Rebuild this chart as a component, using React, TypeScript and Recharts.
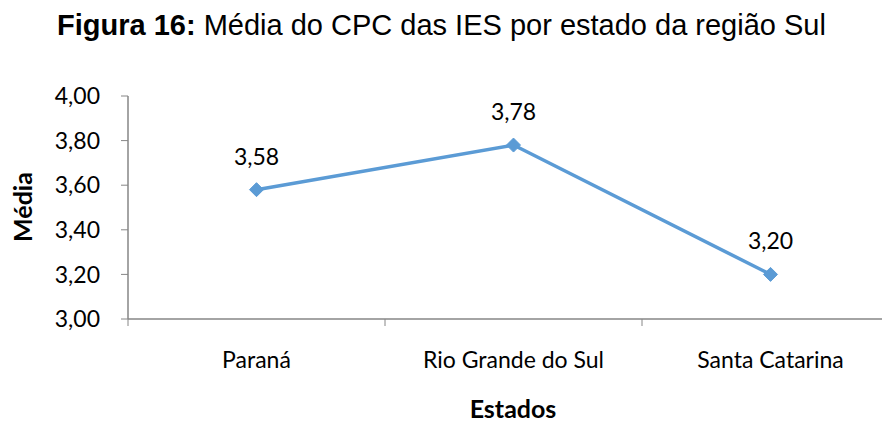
import React from 'react';
import { LineChart, Line, XAxis, YAxis, LabelList } from 'recharts';

const estados = ['Paraná', 'Rio Grande do Sul', 'Santa Catarina'];
const medias = [3.58, 3.78, 3.2];
const yTicks = [3, 3.2, 3.4, 3.6, 3.8, 4];
const xTicks = [0, 0.5, 1, 1.5, 2, 2.5, 3];

const data = estados.map((nome, i) => ({ pos: i + 0.5, nome, media: medias[i] }));

const AXIS = '#868686';
const BLUE = '#5B9BD5';
const FONT = 'Lato, "Open Sans", sans-serif';

const fmt = (v: number) => v.toFixed(2).replace('.', ',');

const XTick = (props: any) => {
  const { x, y, payload } = props;
  const v = payload.value as number;
  if (Number.isInteger(v)) {
    return <line x1={x} x2={x} y1={y} y2={y + 7} stroke={AXIS} strokeWidth={1} />;
  }
  return (
    <text x={x} y={y + 49} textAnchor="middle" fill="#000" fontSize={23} fontFamily={FONT}>
      {estados[Math.floor(v)]}
    </text>
  );
};

const Diamond = (props: any) => {
  const { cx, cy } = props;
  if (cx == null || cy == null) return null;
  const r = 7;
  return (
    <polygon
      points={`${cx},${cy - r} ${cx + r},${cy} ${cx},${cy + r} ${cx - r},${cy}`}
      fill={BLUE}
      stroke={BLUE}
    />
  );
};

const ValueLabel = (props: any) => {
  const { x, y, value } = props;
  return (
    <text x={x} y={y - 25} textAnchor="middle" fill="#000" fontSize={23} fontFamily={FONT}>
      {fmt(value)}
    </text>
  );
};

export default function App() {
  return (
    <div style={{ position: 'relative', width: 882, height: 415, overflow: 'hidden', background: '#fff' }}>
      <LineChart
        width={900}
        height={415}
        data={data}
        margin={{ top: 88, right: 9, bottom: 103, left: 60 }}
      >
        <XAxis
          dataKey="pos"
          type="number"
          domain={[0, 3]}
          ticks={xTicks}
          interval={0}
          tickLine={false}
          tickSize={0}
          tickMargin={0}
          height={1}
          axisLine={{ stroke: AXIS, strokeWidth: 1.5 }}
          tick={<XTick />}
        />
        <YAxis
          type="number"
          domain={[3, 4]}
          ticks={yTicks}
          interval={0}
          width={60}
          tickFormatter={fmt}
          tickSize={7}
          tickMargin={21}
          axisLine={{ stroke: AXIS, strokeWidth: 1.5 }}
          tickLine={{ stroke: AXIS }}
          tick={{ fill: '#000', fontSize: 23, fontFamily: FONT }}
        />
        <Line
          dataKey="media"
          stroke={BLUE}
          strokeWidth={3.5}
          dot={<Diamond />}
          activeDot={false}
          isAnimationActive={false}
        >
          <LabelList dataKey="media" content={<ValueLabel />} />
        </Line>
      </LineChart>
      <svg
        width={882}
        height={415}
        style={{ position: 'absolute', left: 0, top: 0, pointerEvents: 'none' }}
      >
        <text x={49} y={27} fontSize={29} fontFamily='"Liberation Sans", Arial, sans-serif' fill="#000">
          <tspan fontWeight="bold">Figura 16:</tspan> Média do CPC das IES por estado da região Sul
        </text>
        <text
          x={0}
          y={0}
          transform="translate(24, 199) rotate(-90)"
          textAnchor="middle"
          fontSize={25}
          fontWeight="bold"
          fontFamily={FONT}
          fill="#000"
        >
          Média
        </text>
        <text x={505} y={410} textAnchor="middle" fontSize={25} fontWeight="bold" fontFamily={FONT} fill="#000">
          Estados
        </text>
      </svg>
    </div>
  );
}
